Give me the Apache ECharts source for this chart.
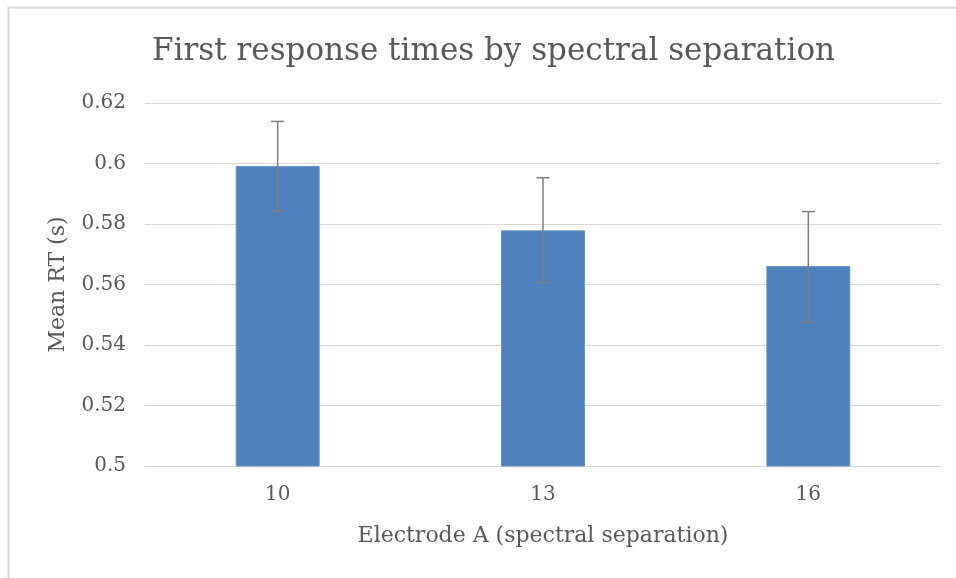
<!DOCTYPE html>
<html>
<head>
<meta charset="utf-8">
<script src="https://cdn.jsdelivr.net/npm/echarts@6/dist/echarts.min.js"></script>
<style>html,body{margin:0;padding:0;background:#fff}#c{width:956px;height:578px}</style>
</head>
<body>
<div id="c"></div>
<script>
const categories = ['10', '13', '16'];
const meanRT = [0.5992, 0.5779, 0.5661];
const errLow = [0.5842, 0.5607, 0.5476];
const errHigh = [0.6139, 0.5953, 0.5841];
const yTicks = [0.5, 0.52, 0.54, 0.56, 0.58, 0.6, 0.62];

const FONT = '"DejaVu Serif", serif';
const TXT = '#595959';
const chart = echarts.init(document.getElementById('c'), null, {renderer: 'canvas'});
chart.setOption({
  animation: false,
  backgroundColor: '#fff',
  graphic: [{
    type: 'rect', left: 6, top: 5, z: -10, silent: true,
    shape: {width: 1000, height: 1000},
    style: {fill: 'none', stroke: '#d9d9d9', lineWidth: 2}
  }],
  title: {
    text: 'First response times by spectral separation',
    left: 147, top: 31,
    textStyle: {fontFamily: FONT, fontSize: 31, fontWeight: 'normal', color: TXT}
  },
  grid: {left: 145, right: 15, top: 103, bottom: 112, containLabel: false},
  xAxis: {
    type: 'category', data: categories,
    name: 'Electrode A (spectral separation)', nameLocation: 'middle', nameGap: 59,
    nameTextStyle: {fontFamily: FONT, fontSize: 22, color: TXT},
    axisLine: {lineStyle: {color: '#d9d9d9', width: 1}},
    axisTick: {show: false},
    axisLabel: {fontFamily: FONT, fontSize: 20, color: TXT, margin: 19}
  },
  yAxis: {
    type: 'value', min: yTicks[0], max: yTicks[yTicks.length - 1], interval: 0.02,
    name: 'Mean RT (s)', nameLocation: 'middle', nameGap: 76, nameRotate: 90,
    nameTextStyle: {fontFamily: FONT, fontSize: 22, color: TXT},
    axisLine: {show: false}, axisTick: {show: false},
    axisLabel: {fontFamily: FONT, fontSize: 20, color: TXT, margin: 19,
      formatter: v => String(parseFloat(v.toFixed(2)))},
    splitLine: {lineStyle: {color: '#d9d9d9', width: 1}}
  },
  series: [{
    type: 'bar', data: meanRT, barWidth: 84,
    itemStyle: {color: '#4F81BD', borderColor: '#6a95c9', borderWidth: 1}
  }, {
    type: 'custom', z: 10,
    data: categories.map((c, i) => [i, errLow[i], errHigh[i]]),
    renderItem: function (params, api) {
      const x = api.value(0);
      const lo = api.coord([x, api.value(1)]);
      const hi = api.coord([x, api.value(2)]);
      const hw = 6.5;
      const st = {stroke: '#7f7f7f', lineWidth: 1.5};
      return {type: 'group', children: [
        {type: 'line', shape: {x1: hi[0], y1: hi[1], x2: lo[0], y2: lo[1]}, style: st},
        {type: 'line', shape: {x1: hi[0] - hw, y1: hi[1], x2: hi[0] + hw, y2: hi[1]}, style: st},
        {type: 'line', shape: {x1: lo[0] - hw, y1: lo[1], x2: lo[0] + hw, y2: lo[1]}, style: st}
      ]};
    }
  }]
});
</script>
</body>
</html>
